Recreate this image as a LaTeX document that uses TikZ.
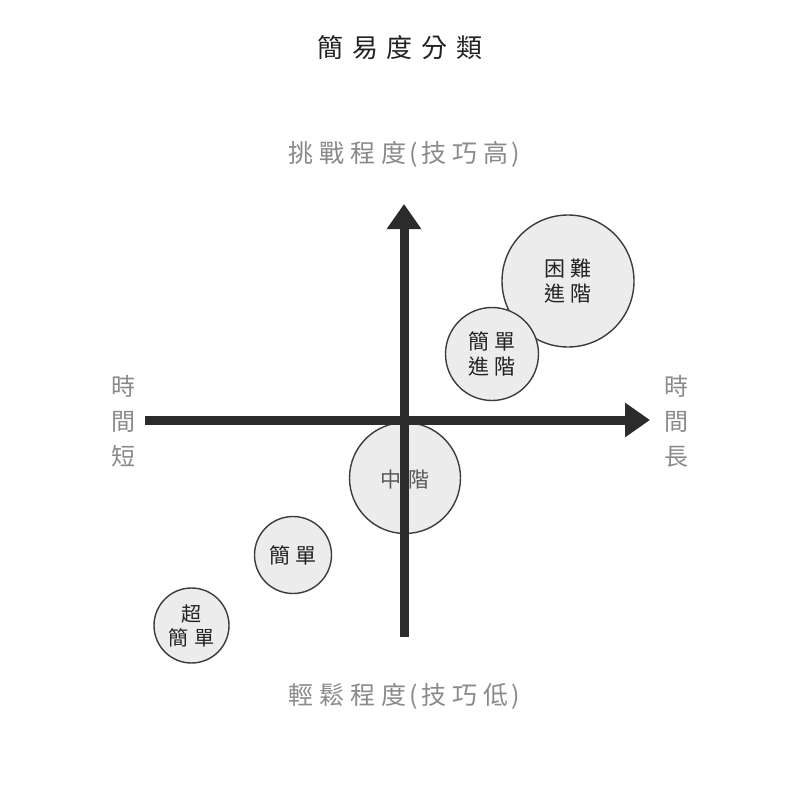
\documentclass[tikz,border=0pt]{standalone}
\usepackage{fontspec}
\newfontfamily\cjk{Noto Sans CJK TC}
\usetikzlibrary{arrows.meta}
\definecolor{axiscol}{HTML}{2B2B2B}
\definecolor{bubfill}{HTML}{ECECEC}
\definecolor{bubdraw}{HTML}{3C3C3C}
\definecolor{labgray}{HTML}{8A8A8A}
\definecolor{titlecol}{HTML}{222222}
\newcommand\gt{\hspace{9pt}}
\newcommand\gp{\hspace{6pt}}
\newcommand\gq{\hspace{3pt}}
\newcommand\gs{\hspace{6pt}}
\begin{document}
\begin{tikzpicture}[x=1pt,y=-1pt,
  axis/.style={line width=9pt,draw=axiscol,-{Triangle[length=25pt,width=33pt]}},
  bubble/.style={circle,draw=bubdraw,fill=bubfill,line width=1.4pt,inner sep=0pt,align=center,text=titlecol,font=\cjk\fontsize{21pt}{25pt}\selectfont},
  titletext/.style={text=titlecol,font=\cjk\fontsize{26pt}{30pt}\selectfont,inner sep=0pt},
  axlabel/.style={text=labgray,font=\cjk\fontsize{25pt}{30pt}\selectfont,inner sep=0pt},
  vlabel/.style={text=labgray,font=\cjk\fontsize{24pt}{35pt}\selectfont,inner sep=0pt,align=center}]
\useasboundingbox[fill=white] (0,0) rectangle (800,800);
% title and labels
\node[titletext] (title) at (400,48) {簡\gt 易\gt 度\gt 分\gt 類};
\node[axlabel] (top) at (404,154) {挑\gp 戰\gp 程\gp 度\gq(\gq 技\gp 巧\gp 高\gq)};
\node[axlabel] (bottom) at (404,696) {輕\gp 鬆\gp 程\gp 度\gq(\gq 技\gp 巧\gp 低\gq)};
\node[vlabel] (left) at (123,421) {時\\間\\短};
\node[vlabel] (right) at (676,421) {時\\間\\長};
% bubbles
\node[bubble,minimum size=132pt] (hard) at (568,281) {困\gs 難\\進\gs 階};
\node[bubble,minimum size=93pt] (easyadv) at (492,354) {簡\gs 單\\進\gs 階};
\node[bubble,minimum size=111pt] (mid) at (405,478) {};
\node[text=black!65,font=\cjk\fontsize{21pt}{25pt}\selectfont,inner sep=0pt] (midtext) at (405,480) {中\hspace{8pt}階};
\node[bubble,minimum size=77pt] (easy) at (293,555) {簡\gs 單};
\node[bubble,minimum size=75pt,font=\cjk\fontsize{20pt}{24pt}\selectfont] (supereasy) at (191.5,625.5) {超\\簡\gs 單};
% axes
\coordinate (vb) at (404,637);
\coordinate (vt) at (404,204);
\coordinate (hl) at (145,420);
\coordinate (hr) at (650,420);
\draw[axis] (hl) -- (hr);
\draw[axis] (vb) -- (vt);
\end{tikzpicture}
\end{document}
